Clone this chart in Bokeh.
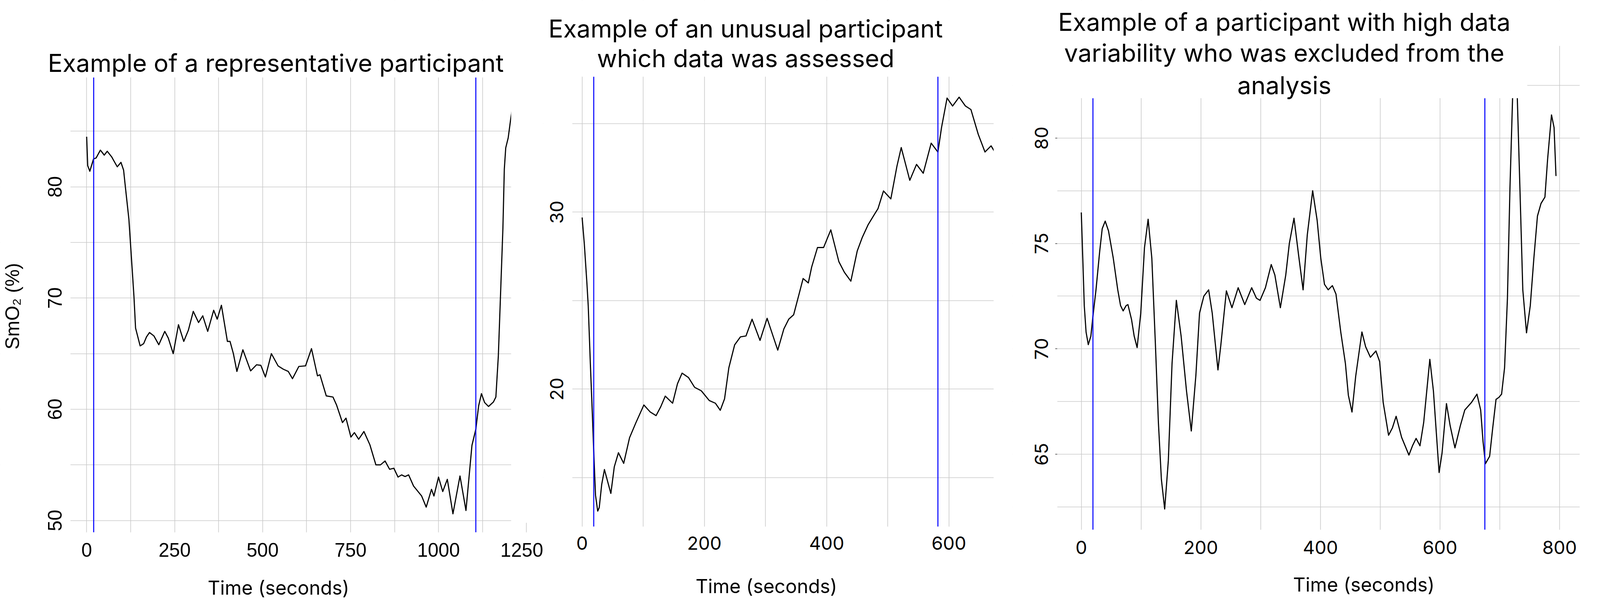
import math
from bokeh.plotting import figure
from bokeh.models import Label, FixedTicker, Range1d
from bokeh.layouts import row
from bokeh.embed import file_html
from bokeh.resources import INLINE

# ---------------- data ----------------
p1_time = [0, 3, 9, 19.5, 27, 39, 50, 58.5, 71, 78, 87, 97.5, 105, 110, 120, 130, 134.5, 139, 152, 162,
           170, 178.5, 191, 205, 222, 232, 246, 261, 276, 289, 303, 318, 330, 344, 361, 371, 383, 400,
           407.5, 417, 427, 444, 466, 483, 495, 508, 525, 544, 559, 573, 585, 603, 622, 639, 656, 663,
           681, 700, 710, 727, 737, 751, 761, 773, 788, 805, 822, 835, 848, 861, 873, 885, 895, 905,
           915, 929, 952, 965, 980, 987, 1000, 1012, 1025, 1041, 1061, 1078, 1095, 1106, 1114, 1122,
           1131, 1142, 1156, 1163, 1170, 1176, 1183, 1187, 1191, 1198, 1206, 1212]
p1_smo2 = [84.5, 81.9, 81.4, 82.5, 82.6, 83.3, 82.85, 83.2, 82.7, 82.3, 81.8, 82.2, 81.5, 80.0, 77.1,
           72.3, 70.1, 67.3, 65.7, 65.9, 66.5, 66.9, 66.6, 65.8, 67.0, 66.4, 65.0, 67.6, 66.1, 67.1,
           68.8, 67.8, 68.4, 67.0, 68.9, 68.1, 69.35, 66.1, 66.1, 65.0, 63.4, 65.35, 63.45, 64.0,
           63.95, 62.9, 65.0, 63.9, 63.6, 63.4, 62.75, 63.85, 63.9, 65.45, 63.0, 63.1, 61.2, 61.1,
           60.4, 58.8, 59.2, 57.5, 57.9, 57.3, 58.0, 56.8, 55.0, 55.0, 55.35, 54.6, 54.7, 53.9, 54.1,
           53.95, 54.1, 53.1, 52.2, 51.2, 52.8, 52.2, 53.9, 52.6, 53.7, 50.6, 54.0, 50.9, 56.75, 58.2,
           60.3, 61.4, 60.6, 60.25, 60.65, 61.1, 64.8, 70.1, 76.3, 81.6, 83.5, 84.4, 86.3, 87.5]
p1_markers = [20, 1106]

p2_time = [0, 3.6, 7.8, 10, 13.5, 16.7, 19.3, 21.9, 25.5, 28, 32, 36.5, 47, 52.6, 59.4, 68, 77.6, 88,
           101, 111.5, 121, 128.6, 136, 148, 156, 163.5, 174, 184, 195, 208, 218, 226, 233, 240,
           249.5, 259, 268, 278, 291, 302.6, 320, 330, 338, 346, 353.6, 361.5, 370, 375.5, 385, 395,
           406.8, 420, 429, 439.6, 450, 458, 468, 478.6, 484, 493, 505, 515, 522, 536, 547, 558, 571,
           582, 588, 597, 606, 616.7, 627, 636, 648, 659, 669, 675]
p2_smo2 = [29.7, 28.2, 26.0, 24.7, 21.4, 18.6, 16.2, 14.0, 13.1, 13.3, 14.6, 15.45, 14.1, 15.6, 16.4,
           15.8, 17.25, 18.1, 19.1, 18.7, 18.5, 19.0, 19.6, 19.2, 20.3, 20.9, 20.65, 20.1, 19.9,
           19.35, 19.2, 18.8, 19.45, 21.2, 22.5, 22.95, 23.0, 23.95, 22.75, 24.0, 22.2, 23.4, 23.95,
           24.2, 25.2, 26.25, 26.0, 26.9, 28.0, 28.0, 29.0, 27.2, 26.6, 26.1, 27.8, 28.55, 29.3,
           29.9, 30.2, 31.2, 30.75, 32.6, 33.65, 31.8, 32.7, 32.2, 33.9, 33.4, 34.8, 36.45, 36.0,
           36.5, 36.0, 35.8, 34.4, 33.4, 33.75, 33.4]
p2_markers = [19, 582]

p3_time = [0, 2.5, 5, 8, 11.7, 16, 19.7, 24.6, 30.7, 35, 40, 45.5, 53.5, 61, 65.7, 70, 75, 78, 84,
           88.5, 93.4, 99.5, 105.7, 111.8, 118, 124, 129, 134, 139.5, 145.6, 151.8, 159, 167, 176,
           184, 191.7, 197.8, 205, 213, 219, 228.6, 233.5, 242.7, 252, 262.4, 273.4, 285, 293, 299,
           308, 317.7, 323.8, 333, 342, 348, 355.8, 363.7, 371, 378, 387, 394.5, 400.6, 406.8, 413,
           420, 426, 434, 441.8, 446.7, 452.8, 459, 469.4, 475.6, 483.6, 492.8, 499, 505, 514,
           520.4, 526.6, 535.8, 548, 554, 560, 566.5, 572.7, 583, 589, 598.5, 603.4, 610.8, 617,
           625, 634, 641.5, 652.5, 661.8, 668, 672, 676, 683, 688, 693.7, 698.6, 703, 708, 712.8,
           717, 721.4, 725, 729.3, 733.7, 738.5, 744.7, 751, 757, 763, 769, 775.5, 780, 786.5,
           790.8, 794]
p3_smo2 = [76.47, 74.3, 72.05, 70.8, 70.2, 70.6, 71.6, 72.8, 74.6, 75.7, 76.06, 75.6, 74.3, 72.8,
           72.05, 71.8, 72.05, 72.1, 71.4, 70.6, 70.06, 71.7, 74.8, 76.15, 74.3, 70.2, 66.5, 63.8,
           62.4, 64.7, 69.3, 72.3, 70.6, 68.0, 66.1, 68.75, 71.7, 72.5, 72.8, 71.7, 69.0, 70.2,
           72.75, 71.95, 72.9, 72.1, 72.9, 72.4, 72.3, 72.9, 74.0, 73.5, 71.95, 73.5, 75.0, 76.2,
           74.4, 72.8, 75.4, 77.5, 76.1, 74.3, 73.06, 72.8, 73.0, 72.6, 70.8, 69.3, 67.8, 67.0,
           68.7, 70.8, 70.1, 69.6, 69.9, 69.4, 67.45, 65.9, 66.25, 66.8, 65.8, 64.96, 65.4, 65.75,
           65.4, 66.5, 69.5, 68.0, 64.13, 65.05, 67.4, 66.35, 65.3, 66.35, 67.1, 67.45, 67.85,
           67.1, 65.6, 64.55, 64.9, 66.2, 67.6, 67.7, 67.85, 69.1, 72.4, 77.6, 81.9, 83.0, 81.9,
           77.6, 72.8, 70.76, 72.05, 74.3, 76.3, 76.9, 77.2, 79.0, 81.1, 80.5, 78.2]
p3_markers = [19.5, 675]

p1_xticks = [0, 250, 500, 750, 1000, 1250]
p1_xminor = [125, 375, 625, 875, 1125]
p1_yticks = [50, 60, 70, 80]
p1_yminor = [55, 65, 75, 85]
p2_xticks = [0, 200, 400, 600]
p2_xminor = [100, 300, 500]
p2_yticks = [20, 30]
p2_yminor = [15, 25, 35]
p3_xticks = [0, 200, 400, 600, 800]
p3_xminor = [100, 300, 500, 700]
p3_yticks = [65, 70, 75, 80]
p3_yminor = [62.5, 67.5, 72.5, 77.5, 82.5]

titles = [
    ["Example of a representative participant"],
    ["Example of an unusual participant", "which data was assessed"],
    ["Example of a participant with high data", "variability who was excluded from the", "analysis"],
]
x_label = "Time (seconds)"
y_label = "SmO\u2082 (%)"

# ---------------- layout / style ----------------
# geometry below is measured in photo pixels; the page is photographed
# slightly enlarged, so CSS sizes = photo pixels / ZOOM
ZOOM = 1.016
TFONT = "Inter"
AFONT = "Liberation Sans"
GRID = "#c9c9c9"
MARGIN = 8
H = 1533                       # css px
TOP_PX = MARGIN * ZOOM
BOT_PX = (MARGIN + H) * ZOOM


def css(v):
    return v / ZOOM


def fpx(v):
    return "%.1fpx" % css(v)


class Geo:
    def __init__(self, css_left, css_width, x0_px, px_per_x, yv, y_px, px_per_y, box):
        self.css_left, self.width = css_left, css_width
        self.fig_l = css_left * ZOOM
        self.fig_r = (css_left + css_width) * ZOOM
        self.x0_px, self.sx = x0_px, px_per_x
        self.yv, self.y_px, self.sy = yv, y_px, px_per_y
        self.box = box  # left, right, top, bottom (photo px)

    def dx(self, px):
        return (px - self.x0_px) / self.sx

    def dy(self, py):
        return self.yv + (self.y_px - py) / self.sy

    def sxp(self, px):
        return css(px - self.fig_l)

    def syp(self, py):
        return css(BOT_PX - py)


def make(g, xt, xm, yt, ym, tick_font, tick_size, xstand, ystand):
    L, R, T, B = g.box
    p = figure(width=g.width, height=H,
               x_range=Range1d(g.dx(g.fig_l), g.dx(g.fig_r)),
               y_range=Range1d(g.dy(BOT_PX), g.dy(TOP_PX)),
               output_backend="svg", toolbar_location=None,
               min_border=0, min_border_left=0, min_border_right=0,
               min_border_top=0, min_border_bottom=0)
    p.outline_line_color = None
    p.xaxis.ticker = FixedTicker(ticks=xt, minor_ticks=xm)
    p.yaxis.ticker = FixedTicker(ticks=yt, minor_ticks=ym)
    p.xgrid.ticker = FixedTicker(ticks=xt, minor_ticks=xm)
    p.ygrid.ticker = FixedTicker(ticks=yt, minor_ticks=ym)
    for gr in (p.xgrid, p.ygrid):
        gr.grid_line_color = GRID
        gr.grid_line_width = 1.6
        gr.minor_grid_line_color = GRID
        gr.minor_grid_line_width = 1.6
    p.xaxis.fixed_location = g.dy(B)
    p.yaxis.fixed_location = g.dx(L)
    for ax in (p.xaxis, p.yaxis):
        ax.axis_line_color = None
        ax.major_tick_line_color = None
        ax.minor_tick_line_color = None
        ax.major_label_text_font = tick_font
        ax.major_label_text_font_size = fpx(tick_size)
        ax.major_label_text_color = "black"
    p.xaxis.major_label_standoff = round(css(xstand))
    p.yaxis.major_label_orientation = "vertical"
    p.yaxis.major_label_standoff = round(css(ystand))
    return p


def add_series(p, g, t, v, markers):
    L, R, T, B = g.box
    p.line(t, v, line_color="black", line_width=2.9, line_join="round")
    p.segment(x0=markers, x1=markers, y0=[g.dy(B)] * len(markers), y1=[g.dy(T)] * len(markers),
              line_color="#0000ff", line_width=2.6)


def cover(p, rects):
    p.quad(left=[r[0] for r in rects], right=[r[1] for r in rects],
           bottom=[r[2] for r in rects], top=[r[3] for r in rects],
           fill_color="white", line_color=None)


def add_text(p, g, text, px, py, font, size, baseline="alphabetic", angle=0.0):
    p.add_layout(Label(x=g.sxp(px), y=g.syp(py), x_units="screen", y_units="screen", text=text,
                       text_font=font, text_font_size=fpx(size), text_color="black",
                       text_align="center", text_baseline=baseline, angle=angle))


W1, W2, W3 = 1390, 1201, 1468
L1 = MARGIN
L2 = L1 + W1
L3 = L2 + W2

# ---- panel 1 ----
g1 = Geo(L1, W1, 233, 0.9152, 50, 1361, 28.92, (191, 1337, 209, 1392))
p1 = make(g1, p1_xticks, p1_xminor, p1_yticks, p1_yminor, AFONT, 50, 21, 16)
add_series(p1, g1, p1_time, p1_smo2, p1_markers)
X0, X1, Y0, Y1 = g1.dx(g1.fig_l), g1.dx(g1.fig_r), g1.dy(BOT_PX), g1.dy(TOP_PX)
cover(p1, [(X0, X1, g1.dy(209), Y1),            # above panel
           (X0, X1, Y0, g1.dy(1392)),           # below panel
           (X0, g1.dx(191), Y0, Y1),            # left of panel
           (g1.dx(1337), X1, g1.dy(1367), Y1)])  # white patch at the right
add_text(p1, g1, titles[0][0], 725, 171, TFONT, 64)
add_text(p1, g1, x_label, 732, 1536, TFONT, 50)
add_text(p1, g1, y_label, 40, 804, AFONT, 50, baseline="middle", angle=math.pi / 2)

# ---- panel 2 ----
g2 = Geo(L2, W2, 1521.7, 1.59, 20, 1019.3, 46, (1496.3, 2592, 207, 1377))
p2 = make(g2, p2_xticks, p2_xminor, p2_yticks, p2_yminor, TFONT, 48, 19, 17)
add_series(p2, g2, p2_time, p2_smo2, p2_markers)
X0, X1, Y0, Y1 = g2.dx(g2.fig_l), g2.dx(g2.fig_r), g2.dy(BOT_PX), g2.dy(TOP_PX)
cover(p2, [(X0, X1, g2.dy(207), Y1),
           (X0, X1, Y0, g2.dy(1377)),
           (X0, g2.dx(1496.3), Y0, Y1),
           (g2.dx(2592), X1, Y0, Y1)])
add_text(p2, g2, titles[1][0], 1947, 82, TFONT, 64)
add_text(p2, g2, titles[1][1], 1947, 159, TFONT, 64)
add_text(p2, g2, x_label, 2001, 1532, TFONT, 50)

# ---- panel 3 ----
g3 = Geo(L3, W3, 2820, 1.555, 80, 366.7, 54.8, (2757.7, 4116.3, 262.8, 1385))
p3 = make(g3, p3_xticks, p3_xminor, p3_yticks, p3_yminor, TFONT, 48, 22, 19)
p3.yaxis.major_tick_line_color = "#333333"
p3.yaxis.major_tick_line_width = 1.5
p3.yaxis.major_tick_out = 5
p3.yaxis.major_tick_in = 0
add_series(p3, g3, p3_time, p3_smo2, p3_markers)
X0, X1, Y0, Y1 = g3.dx(g3.fig_l), g3.dx(g3.fig_r), g3.dy(BOT_PX), g3.dy(TOP_PX)
cover(p3, [(X0, X1, g3.dy(127), Y1),                       # top band
           (X0, g3.dx(3980), g3.dy(262.8), g3.dy(127)),     # title area (leaves a grid fragment at right)
           (X0, X1, Y0, g3.dy(1385)),
           (X0, g3.dx(2757.7), Y0, Y1),
           (g3.dx(4116.3), X1, Y0, Y1)])
for i, line in enumerate(titles[2]):
    add_text(p3, g3, line, 3348, [65, 145, 229][i], TFONT, 64)
add_text(p3, g3, x_label, 3555, 1528, TFONT, 50)

layout = row(p1, p2, p3)
open("out.html", "w").write(file_html(layout, INLINE))
